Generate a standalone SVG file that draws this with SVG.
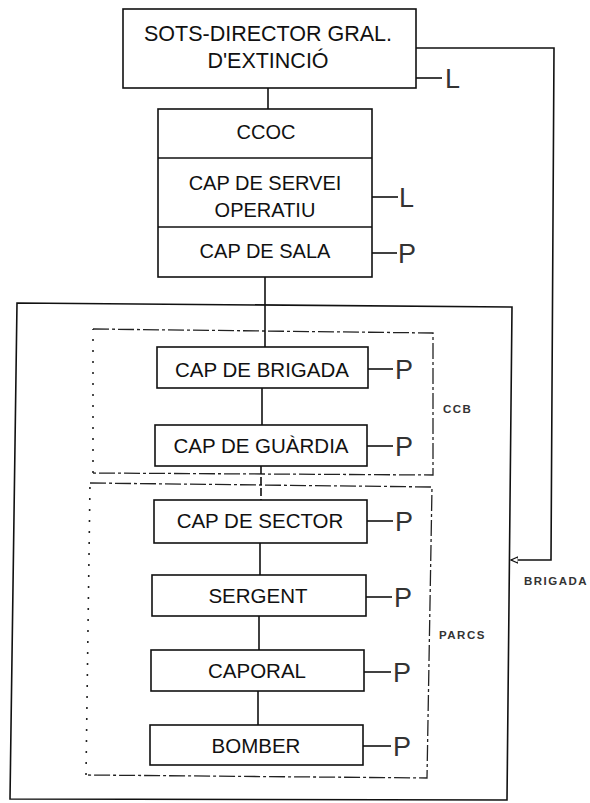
<svg xmlns="http://www.w3.org/2000/svg" width="590" height="803" viewBox="0 0 590 803">
<defs>
<style>
.box{fill:#fff;stroke:#111;stroke-width:1.6}
.ln{fill:none;stroke:#111;stroke-width:1.6}
.t{font-family:"Liberation Sans",Arial,sans-serif;fill:#111;text-anchor:middle}
.tb{font-size:20.5px}
.tm{font-size:20px}
.tt{font-size:21.5px}
.lp{font-family:"Liberation Sans",Arial,sans-serif;font-size:27px;fill:#333}
.sm{font-family:"Liberation Sans",Arial,sans-serif;font-size:11.5px;font-weight:bold;letter-spacing:1.5px;fill:#333}
.dd{fill:none;stroke:#222;stroke-width:1.3;stroke-dasharray:16 3 3 3}
.dot{fill:none;stroke:#222;stroke-width:1.6;stroke-dasharray:2 9}
</style>
<marker id="arr" viewBox="0 0 10 10" refX="9" refY="5" markerWidth="5" markerHeight="5" orient="auto">
<path d="M0,1 L9,5 L0,9 Z" fill="#fff" stroke="#111" stroke-width="1.4"/>
</marker>
</defs>
<rect width="590" height="803" fill="#fff"/>

<g id="brigada-container">
<path class="ln" d="M17,303 L512,307 L507,800 L10,799 Z"/>
<text class="sm" x="524" y="585">BRIGADA</text>
</g>

<g id="ccb-group">
<path class="dd" d="M93,329 L433,333 L433,475 L91,473"/>
<path class="dot" d="M93,473 L93,329"/>
<text class="sm" x="443" y="413">CCB</text>
</g>

<g id="parcs-group">
<path class="dd" d="M90,483 L432,487 L427,778 L86,775"/>
<path class="dot" d="M86,775 L90,483"/>
<text class="sm" x="439" y="639">PARCS</text>
</g>

<g id="connectors">
<line class="ln" x1="268" y1="88" x2="268" y2="109"/>
<line class="ln" x1="265" y1="277" x2="265" y2="347"/>
<line class="ln" x1="262" y1="388" x2="262" y2="425"/>
<line class="ln" x1="261" y1="466" x2="261" y2="500" stroke-dasharray="8 3"/>
<line class="ln" x1="260" y1="543" x2="260" y2="575"/>
<line class="ln" x1="259" y1="616" x2="259" y2="650"/>
<line class="ln" x1="258" y1="691" x2="258" y2="725"/>
<path class="ln" d="M416,48 L554,48 L551,560 L511,560" marker-end="url(#arr)"/>
</g>

<g id="sots-director">
<rect class="box" x="123" y="9" width="293" height="79"/>
<text class="t tt" x="268" y="41">SOTS-DIRECTOR GRAL.</text>
<text class="t tt" x="268" y="68">D'EXTINCIÓ</text>
<line class="ln" x1="416" y1="78" x2="442" y2="78"/>
<text class="lp" x="445" y="88">L</text>
</g>

<g id="ccoc-stack">
<rect class="box" x="158" y="109" width="214" height="168"/>
<line class="ln" x1="158" y1="158" x2="372" y2="158"/>
<line class="ln" x1="158" y1="227" x2="372" y2="227"/>
<text class="t tm" x="266" y="139">CCOC</text>
<text class="t tm" x="265" y="190">CAP DE SERVEI</text>
<text class="t tm" x="265" y="217">OPERATIU</text>
<text class="t tm" x="265" y="258">CAP DE SALA</text>
<line class="ln" x1="372" y1="197" x2="398" y2="197"/>
<text class="lp" x="399" y="207">L</text>
<line class="ln" x1="372" y1="253" x2="397" y2="253"/>
<text class="lp" x="398" y="263">P</text>
</g>

<g id="cap-brigada">
<rect class="box" x="157" y="347" width="211" height="41"/>
<text class="t tb" x="262" y="377">CAP DE BRIGADA</text>
<line class="ln" x1="368" y1="369" x2="393" y2="369"/>
<text class="lp" x="395" y="379">P</text>
</g>

<g id="cap-guardia">
<rect class="box" x="155" y="425" width="212" height="41"/>
<text class="t tb" x="261" y="453">CAP DE GUÀRDIA</text>
<line class="ln" x1="367" y1="446" x2="393" y2="446"/>
<text class="lp" x="395" y="456">P</text>
</g>

<g id="cap-sector">
<rect class="box" x="154" y="500" width="213" height="43"/>
<text class="t tb" x="260" y="528">CAP DE SECTOR</text>
<line class="ln" x1="367" y1="521" x2="393" y2="521"/>
<text class="lp" x="395" y="531">P</text>
</g>

<g id="sergent">
<rect class="box" x="152" y="575" width="214" height="41"/>
<text class="t tb" x="258" y="603">SERGENT</text>
<line class="ln" x1="366" y1="597" x2="392" y2="597"/>
<text class="lp" x="394" y="607">P</text>
</g>

<g id="caporal">
<rect class="box" x="151" y="650" width="213" height="41"/>
<text class="t tb" x="257" y="678">CAPORAL</text>
<line class="ln" x1="364" y1="672" x2="391" y2="672"/>
<text class="lp" x="393" y="682">P</text>
</g>

<g id="bomber">
<rect class="box" x="150" y="725" width="213" height="40"/>
<text class="t tb" x="256" y="753">BOMBER</text>
<line class="ln" x1="363" y1="746" x2="391" y2="746"/>
<text class="lp" x="393" y="756">P</text>
</g>
</svg>
